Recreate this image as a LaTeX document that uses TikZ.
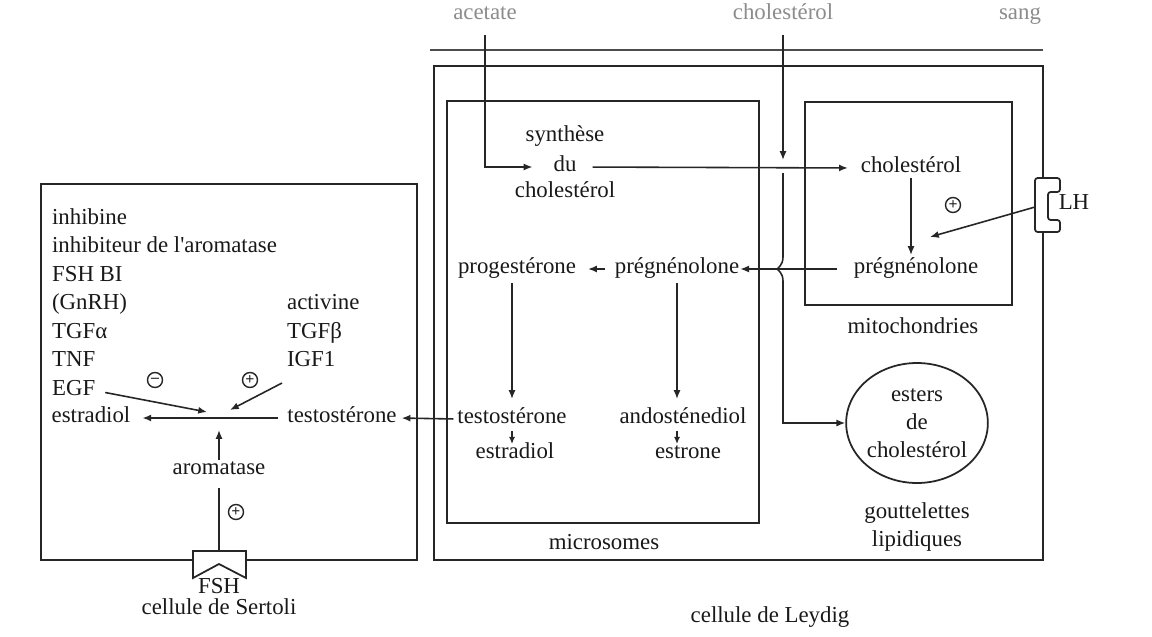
\documentclass[tikz,border=0pt]{standalone}
\usepackage{fontspec}
\setmainfont{Liberation Serif}
\newfontfamily\plainserif{Liberation Serif}
\usetikzlibrary{arrows.meta,shapes.geometric,calc}
\newlength{\pxu}
\setlength{\pxu}{0.02cm}
\begin{document}
\begin{tikzpicture}[x=0.02cm,y=-0.02cm,
  txt/.style={font=\fontsize{13}{16}\selectfont, text=black!90, inner sep=1pt, text height=0.7em, text depth=0.2em},
  toplbl/.style={txt, text=black!45},
  arr/.style={draw=black!85, line width=0.9pt, -{Latex[length=5pt,width=4pt]}},
  sarr/.style={draw=black!85, line width=0.9pt, -{Latex[length=4pt,width=3.5pt]}},
  ln/.style={draw=black!85, line width=0.9pt},
  box/.style={draw=black!85, line width=1pt},
  rec/.style={draw=black!85, line width=1pt, fill=white},
  sgn/.style={circle, draw=black!85, line width=0.8pt, inner sep=0pt, minimum size=15\pxu, font=\fontsize{9}{9}\selectfont\bfseries, text=black!85}
]
\useasboundingbox[fill=white] (0,0) rectangle (1152,636);

% boxes
\draw[box] (41,184) rectangle (417,560);
\draw[box] (434,66) rectangle (1043,560);
\draw[box] (447,101) rectangle (759,523);
\draw[box] (805,102) rectangle (1012,305);
\draw[line width=1.1pt, black!70] (430,50) -- (1043,50);

% top labels
\node[toplbl] (acet) at (485,15) {acetate};
\node[toplbl] (cholB) at (783,15) {cholestérol};
\node[toplbl] (sang) at (1020,15) {sang};

% microsomes content
\node[txt] (synA) at (565,137) {synthèse};
\node[txt] (du) at (565,167) {du};
\node[txt] (synC) at (565,193) {cholestérol};
\node[txt] (prog) at (517,269) {progestérone};
\node[txt] (pregC) at (677,269) {prégnénolone};
\node[txt] (testL) at (512,419) {testostérone};
\node[txt] (estrL) at (515,454) {estradiol};
\node[txt] (andro) at (683,419) {andosténediol};
\node[txt] (estrone) at (688,454) {estrone};
\node[txt] (micro) at (604,545) {microsomes};

% mitochondria content
\node[txt] (cholM) at (911,168) {cholestérol};
\node[txt] (pregM) at (916,269) {prégnénolone};
\node[txt] (mito) at (913,329) {mitochondries};
\node[sgn] (s4) at (953,205) {+};

% lipid droplets
\node[ellipse, draw=black!85, line width=1pt, minimum width=138\pxu, minimum height=120\pxu,
      align=center, inner sep=0pt, font=\fontsize{13}{16}\selectfont, text=black!90] (est) at (917,423) {esters\\de\\cholestérol};
\node[txt, align=center, text height=, text depth=] (gout) at (917,527) {gouttelettes\\lipidiques};
\node[txt] (leydig) at (770,618) {cellule de Leydig};

% LH receptor
\draw[rec, rounded corners=1.5pt] (1060,178) -- (1035,178) -- (1035,232) -- (1060,232)
   -- (1060,220) -- (1048,220) -- (1048,192) -- (1060,192) -- cycle;
\coordinate (LHr) at (1035,207);
\node[txt] (LH) at (1074,205) {LH};

% Sertoli content
\node[txt, anchor=west] (inh) at (50,220) {inhibine};
\node[txt, anchor=west] (inha) at (50,248) {inhibiteur de l{\plainserif'}aromatase};
\node[txt, anchor=west] (fshbi) at (50,277) {FSH BI};
\node[txt, anchor=west] (gnrh) at (50,305) {(GnRH)};
\node[txt, anchor=west] (tgfa) at (50,334) {TGF\char"03B1};
\node[txt, anchor=west] (tnf) at (50,362) {TNF};
\node[txt, anchor=west] (egf) at (50,391) {EGF};
\node[txt] (estrS) at (91,418) {estradiol};
\node[txt, anchor=west] (act) at (285,305) {activine};
\node[txt, anchor=west] (tgfb) at (285,334) {TGF\char"03B2};
\node[txt, anchor=west] (igf) at (285,362) {IGF1};
\node[txt] (testS) at (342,418) {testostérone};
\node[txt] (arom) at (219,470) {aromatase};
\node[sgn] (s1) at (155,380) {\textendash};
\node[sgn] (s2) at (250,380) {+};
\node[sgn] (s3) at (236,512) {+};

% FSH receptor
\draw[rec] (193,551) -- (246,551) -- (246,578) -- (219,564) -- (193,578) -- cycle;
\coordinate (FSHr) at (219,551);
\node[txt, text height=0.65em, text depth=0.05em, inner sep=0.5pt] (fsh) at (219,588) {FSH};
\node[txt, text height=0.65em, text depth=0.15em, inner sep=0.5pt] (sert) at (219,610) {cellule de Sertoli};

% ---- connectors ----
\draw[arr, shorten <=10\pxu, shorten >=19\pxu] (acet.south) |- (du.west);
\draw[arr, shorten <=14\pxu, shorten >=11\pxu] (du.east) -- (cholM.west);
\coordinate (jn) at (cholB.south |- du.east);
\draw[arr, shorten <=10\pxu, shorten >=7\pxu] (cholB.south) -- (jn);
\coordinate (hop) at (jn |- pregM.west);
\draw[arr] ($(jn)+(0,6)$) -- ($(hop)+(0,-12)$)
   .. controls ($(hop)+(0,-4)$) and ($(hop)+(-5,-1)$) .. ($(hop)+(-6,0)$)
   .. controls ($(hop)+(-5,1)$) and ($(hop)+(0,4)$) .. ($(hop)+(0,12)$)
   |- (est.west);
\draw[arr, shorten >=4\pxu] (cholM.south) -- (cholM.south |- pregM.north);
\draw[arr] (LHr) -- ($(pregM.north)+(14,-22)$);
\draw[arr, shorten <=15\pxu, shorten >=-1\pxu] (pregM.west) -- (pregC.east);
\draw[arr, shorten <=8\pxu, shorten >=10\pxu] (pregC.west) -- (prog.east);
\draw[arr, shorten <=4\pxu, shorten >=10\pxu] (testL.north |- prog.south) -- (testL.north);
\draw[arr, shorten <=4\pxu, shorten >=10\pxu] (pregC.south) -- (pregC.south |- andro.north);
\draw[sarr, shorten <=2\pxu] (testL.south) -- (testL.south |- estrL.north);
\draw[sarr, shorten <=2\pxu] (pregC |- andro.south) -- (pregC |- estrone.north);
\draw[arr, shorten <=2\pxu, shorten >=3\pxu] (testL.west) -- (testS.east);
\draw[arr, shorten <=7\pxu, shorten >=10\pxu] (testS.west) -- (estrS.east);
\draw[arr, shorten <=8\pxu] (egf.east) -- ($(arom.north |- testS.west)+(-12,-6)$);
\draw[arr] ($(igf.south west)+(-3,11)$) -- ($(arom.north |- testS.west)+(11,-8)$);
\draw[arr, shorten >=12\pxu] (arom.north) -- (arom.north |- testS.west);
\draw[ln, shorten <=8\pxu] (arom.south) -- (FSHr);
\end{tikzpicture}
\end{document}
